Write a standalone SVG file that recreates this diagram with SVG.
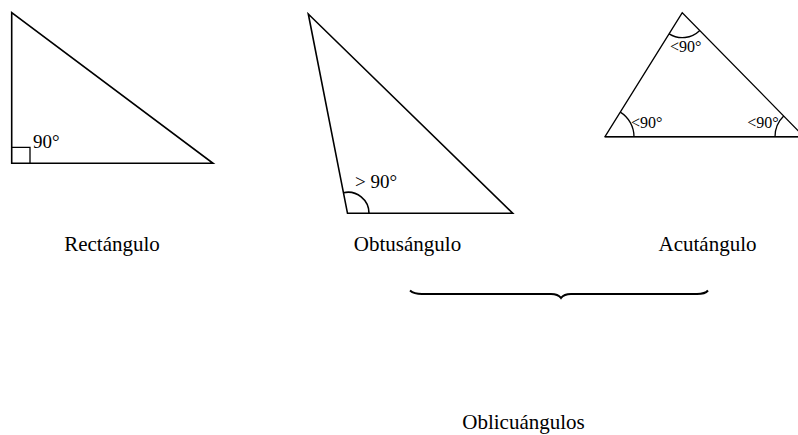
<svg xmlns="http://www.w3.org/2000/svg" width="798" height="435" viewBox="0 0 798 435">
<style>
.tri{fill:none;stroke:#000;stroke-width:1.6;stroke-linejoin:miter}
.thin{fill:none;stroke:#000;stroke-width:1.3}
.lbl{font-family:"Liberation Serif","Times New Roman",serif;font-size:21px;fill:#000;text-anchor:middle}
.ang{font-family:"Liberation Serif","Times New Roman",serif;font-size:19px;fill:#000}
.sm{font-family:"Liberation Serif","Times New Roman",serif;font-size:16px;fill:#000}
</style>
<rect width="798" height="435" fill="#fff"/>
<g id="rectangulo">
<polygon class="tri" points="11.7,12.7 11.7,163.3 213,163.3"/>
<path class="thin" d="M11.7,147.3 H30 V163.3"/>
<text class="ang" x="33" y="148">90°</text>
<text class="lbl" x="112" y="250.7">Rectángulo</text>
</g>
<g id="obtusangulo">
<polygon class="tri" points="308.3,14 347.5,213.3 512.7,213.3"/>
<path class="tri" d="M369,213.3 A21,21 0 0 0 343.4,192.7"/>
<text class="ang" x="355" y="188" font-size="20">&gt; 90°</text>
<text class="lbl" x="407.5" y="250.7">Obtusángulo</text>
</g>
<g id="acutangulo">
<polygon class="thin" points="682.3,12.7 605,136.7 804,136.7"/>
<line class="tri" x1="605" y1="136.7" x2="798" y2="136.7"/>
<path class="thin" d="M669.1,33.9 A25,25 0 0 0 699.8,30.5"/>
<path class="thin" d="M634,136.7 A29,29 0 0 0 620.3,112.1"/>
<path class="thin" d="M775,136.7 A29,29 0 0 1 783.7,116"/>
<text class="sm" x="670" y="51.7">&lt;90°</text>
<text class="sm" x="631" y="127.7">&lt;90°</text>
<text class="sm" x="747.3" y="127.7">&lt;90°</text>
<text class="lbl" x="707.5" y="250.7">Acutángulo</text>
</g>
<g id="connectors">
<path d="M410,290.5 Q414,294 422,294 H551 Q558,294 561,298 Q564,294 571,294 H697 Q705,294 708,290.5" fill="none" stroke="#000" stroke-width="2"/>
</g>
<g id="oblicuangulos">
<text class="lbl" x="523.5" y="429">Oblicuángulos</text>
</g>
</svg>
